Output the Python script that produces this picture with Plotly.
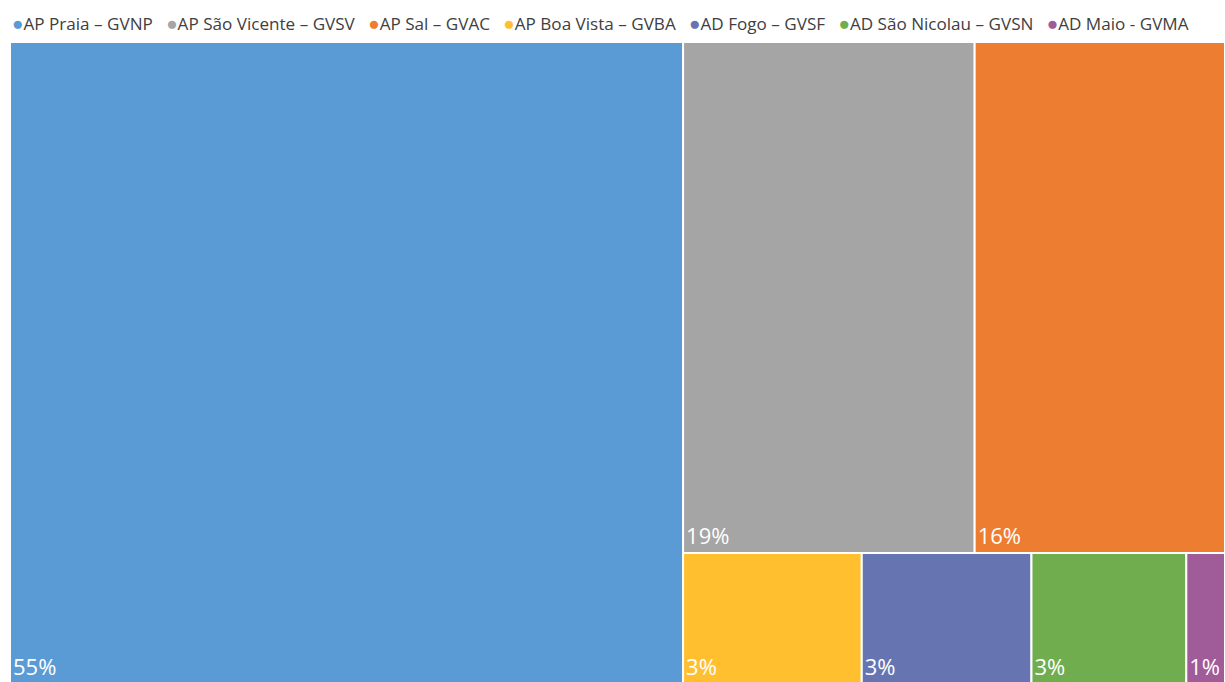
import plotly.graph_objects as go

labels = ["AP Praia – GVNP", "AP São Vicente – GVSV", "AP Sal – GVAC", "AP Boa Vista – GVBA",
          "AD Fogo – GVSF", "AD São Nicolau – GVSN", "AD Maio - GVMA"]
values = [55.4, 19.1, 16.4, 3.0, 2.85, 2.6, 0.65]
colors = ["#5B9BD5", "#A5A5A5", "#ED7D31", "#FFBF2F", "#6675B2", "#70AD4F", "#A05B99"]

total = sum(values)
pct_text = [f"{round(v / total * 100)}%" for v in values]

fig = go.Figure(go.Treemap(
    labels=labels,
    parents=[""] * len(labels),
    values=values,
    text=pct_text,
    texttemplate="%{text}",
    textposition="bottom left",
    textfont=dict(family="Open Sans", size=22, color="white"),
    marker=dict(colors=colors, line=dict(color="white", width=2),
                pad=dict(t=0, l=0, r=0, b=0)),
    tiling=dict(packing="squarify", squarifyratio=1.618, pad=0),
    pathbar=dict(visible=False),
    sort=True,
    hoverinfo="label+value",
))

legend_parts = [f"<span style='color:{c};font-size:19px'>●</span>{l}" for l, c in zip(labels, colors)]
legend_text = "\u00a0\u00a0\u00a0".join(legend_parts)

W, H = 1225, 684
ml, mr, mt, mb = 10, 0, 42, 0
ph = H - mt - mb
pw = W - ml - mr

fig.add_annotation(
    text=legend_text, xref="paper", yref="paper",
    x=(10 - ml) / pw, y=1 + 19 / ph, xanchor="left", yanchor="middle",
    showarrow=False, font=dict(family="Open Sans", size=17.1, color="#404040"),
)

fig.update_layout(
    width=W, height=H, autosize=False,
    margin=dict(l=ml, r=mr, t=mt, b=mb),
    paper_bgcolor="white", plot_bgcolor="white",
)

fig.write_html("out.html", config={"displayModeBar": False},
               post_script="document.body.style.margin='0';document.body.style.overflow='hidden';document.documentElement.style.overflow='hidden';")
